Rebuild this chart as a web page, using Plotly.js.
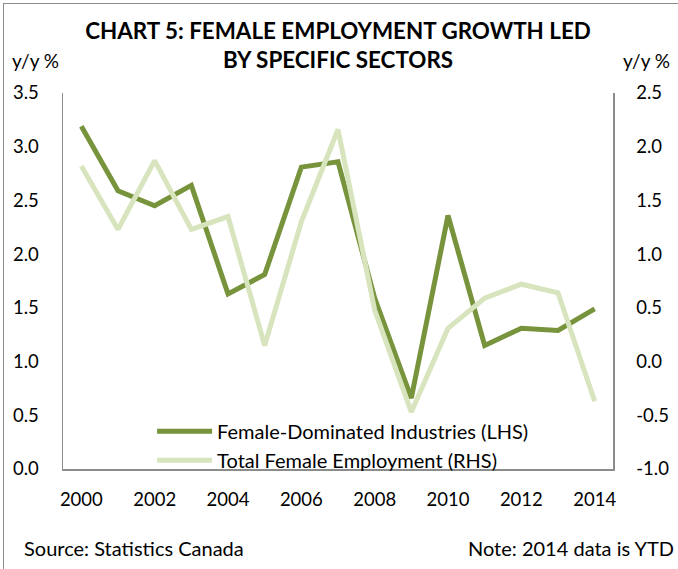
<!DOCTYPE html>
<html>
<head>
<meta charset="utf-8">
<script src="https://cdn.plot.ly/plotly-3.0.1.min.js"></script>
<style>
html,body{margin:0;padding:0;background:#fff;}
#wrap{position:relative;width:678px;height:569px;overflow:hidden;}
#frame{position:absolute;left:3px;top:3px;width:700px;height:600px;border-top:1.5px solid #8c8c8c;border-left:1.5px solid #8c8c8c;pointer-events:none;}
#chart{position:absolute;left:0;top:0;width:678px;height:569px;}
</style>
</head>
<body>
<div id="wrap">
<div id="chart"></div>
<div id="frame"></div>
</div>
<script>
const years = [2000,2001,2002,2003,2004,2005,2006,2007,2008,2009,2010,2011,2012,2013,2014];
const femaleDominated = [3.19,2.59,2.45,2.64,1.63,1.81,2.81,2.86,1.59,0.66,2.36,1.15,1.31,1.29,1.49];
const totalFemale = [1.82,1.23,1.87,1.23,1.35,0.15,1.30,2.16,0.48,-0.47,0.31,0.59,0.72,0.64,-0.37];
const leftTicks = [0,0.5,1,1.5,2,2.5,3,3.5];
const rightTicks = [-1,-0.5,0,0.5,1,1.5,2,2.5];
const xTicks = [2000,2002,2004,2006,2008,2010,2012,2014];

const FONT = 'Lato, "Open Sans", sans-serif';
const data = [
  {x: years, y: femaleDominated, type:'scatter', mode:'lines', name:'Female-Dominated Industries (LHS)',
   line:{color:'#77933C', width:5}, yaxis:'y', legendgroup:'a'},
  {x: years, y: totalFemale, type:'scatter', mode:'lines', name:'Total Female Employment (RHS)',
   line:{color:'#D7E4BD', width:5}, yaxis:'y2', legendgroup:'b'}
];
const layout = {
  width:678, height:569,
  margin:{l:63, r:65, t:93, b:100},
  paper_bgcolor:'#fff', plot_bgcolor:'#fff',
  font:{family:FONT, size:18.5, color:'#000'},
  showlegend:true,
  title:{text:'CHART 5: FEMALE EMPLOYMENT GROWTH LED<br>BY SPECIFIC SECTORS',
    font:{family:FONT, size:22.4, color:'#000', weight:'bold'},
    x:0.5, xanchor:'center', xref:'paper', y:0.931, yanchor:'top', yref:'container'},
  xaxis:{range:[1999.5,2014.5], tickvals:xTicks, ticktext:xTicks.map(String),
    showgrid:false, zeroline:false, showline:true, linecolor:'#8c8c8c', linewidth:1.5,
    ticks:'outside', ticklen:13, tickcolor:'rgba(0,0,0,0)', tickfont:{size:18.5}},
  yaxis:{range:[0,3.5], tickvals:leftTicks, ticktext:leftTicks.map(v=>v.toFixed(1)),
    showgrid:false, zeroline:false, showline:true, linecolor:'#8c8c8c', linewidth:1.5,
    ticks:'outside', ticklen:19, tickcolor:'rgba(0,0,0,0)', tickfont:{size:18.5}},
  yaxis2:{range:[-1,2.5], tickvals:rightTicks, ticktext:rightTicks.map(v=>v.toFixed(1)),
    overlaying:'y', side:'right', showgrid:false, zeroline:false, showline:true,
    linecolor:'#8c8c8c', linewidth:1.5,
    ticks:'outside', ticklen:18, tickcolor:'rgba(0,0,0,0)', tickfont:{size:18.5}},
  legend:{x:0.162, xanchor:'left', y:-0.0286, yanchor:'bottom', bgcolor:'rgba(255,255,255,0)',
    font:{size:20}, tracegroupgap:0, itemwidth:55, traceorder:'grouped'},
  annotations:[
    {text:'y/y %', xref:'paper', yref:'paper', x:-0.096, y:1.05, xanchor:'left', yanchor:'bottom', showarrow:false, font:{size:19}},
    {text:'y/y %', xref:'paper', yref:'paper', x:1.107, y:1.05, xanchor:'right', yanchor:'bottom', showarrow:false, font:{size:19}},
    {text:'Source: Statistics Canada', xref:'paper', yref:'paper', x:-0.075, y:-0.21, xanchor:'left', yanchor:'middle', showarrow:false, font:{size:20}},
    {text:'Note: 2014 data is YTD', xref:'paper', yref:'paper', x:1.1145, y:-0.21, xanchor:'right', yanchor:'middle', showarrow:false, font:{size:20}}
  ]
};
Plotly.newPlot('chart', data, layout, {displayModeBar:false, staticPlot:true});
</script>
</body>
</html>
